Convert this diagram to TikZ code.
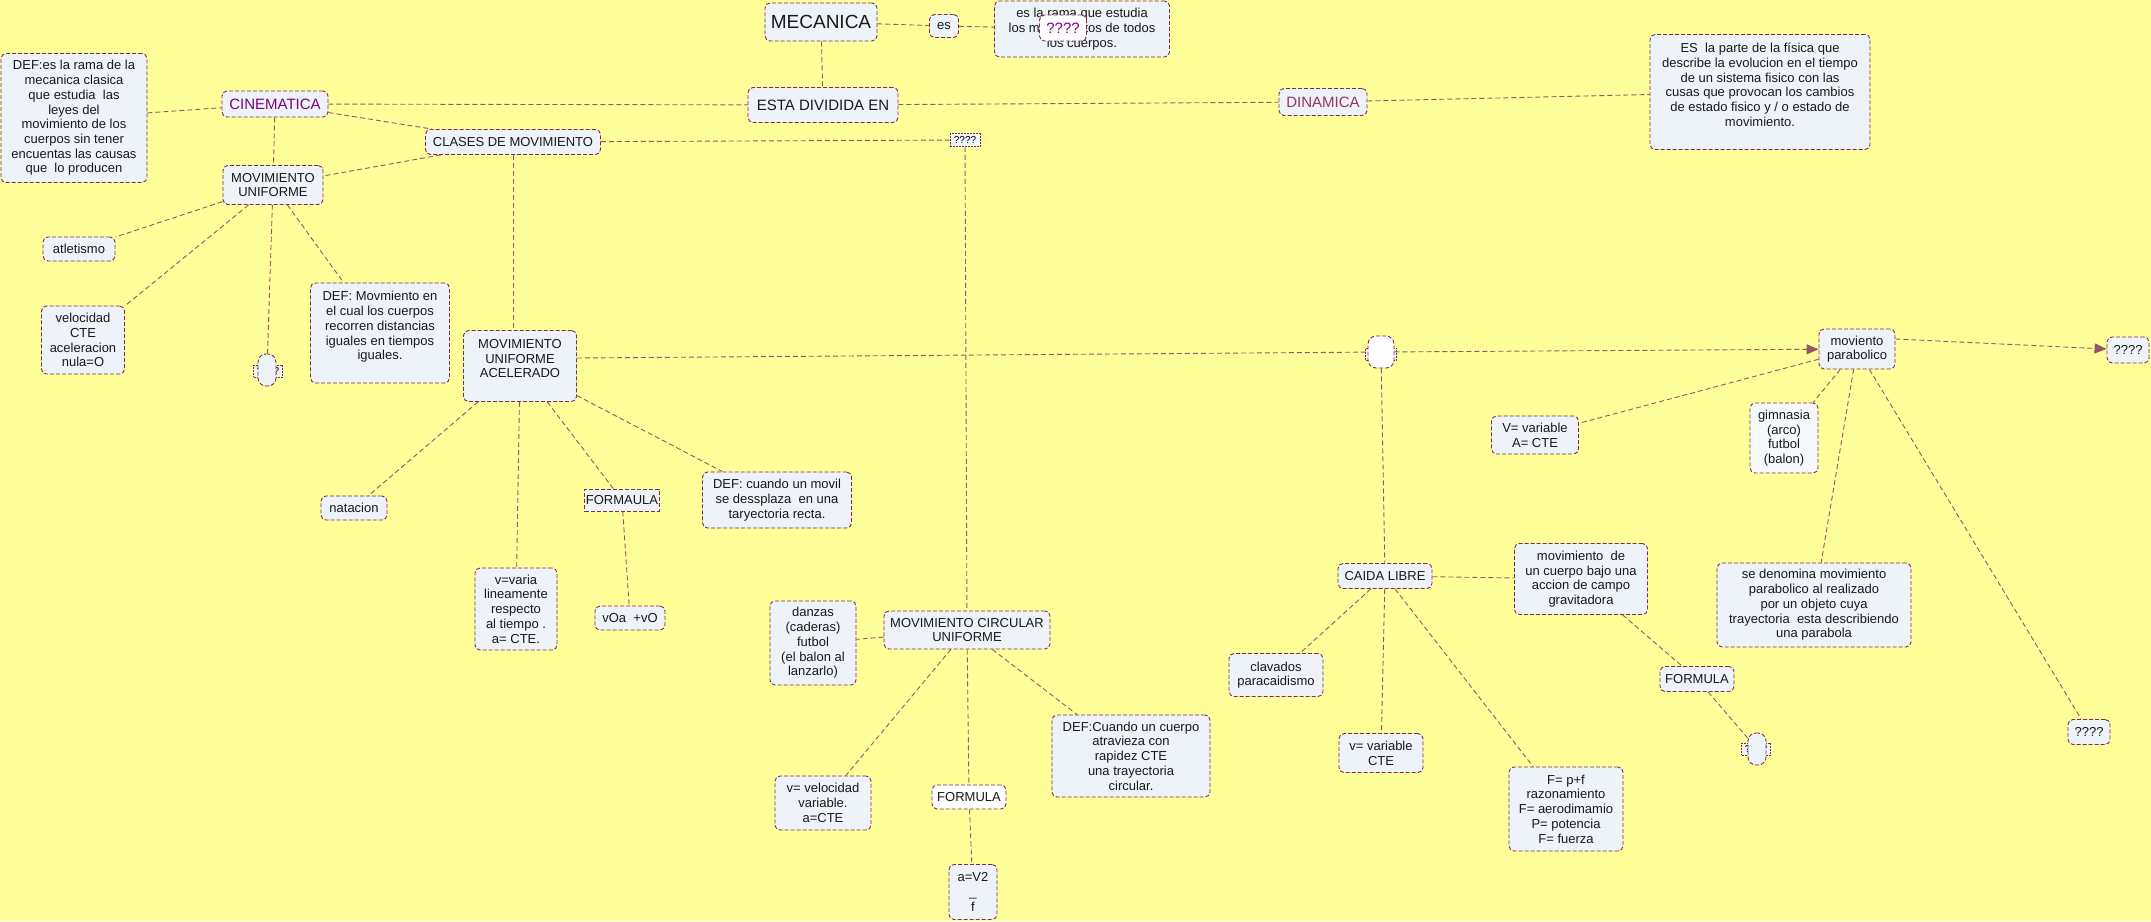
\documentclass[tikz,border=0pt]{standalone}
\usepackage{fontspec}
\setmainfont{Liberation Sans}
\usepackage{tikz}
\usetikzlibrary{shapes, arrows.meta, positioning}

\definecolor{fondo}{RGB}{255,255,153}
\definecolor{relleno}{RGB}{237,243,248}
\definecolor{borde}{RGB}{125,45,80}
\definecolor{linea}{RGB}{150,85,110}
\definecolor{morado}{RGB}{128,0,128}
\definecolor{vino}{RGB}{153,51,102}

\begin{document}
\begin{tikzpicture}[x=1pt, y=-1pt,
    concepto/.style={draw=borde, line width=0.9pt, dash pattern=on 4pt off 2pt, fill=relleno,
        rounded corners=5pt, align=center, inner sep=2pt, text=black!90,
        font=\fontsize{13}{14.7}\selectfont},
    grande/.style={concepto, font=\fontsize{15}{17}\selectfont},
    enlace/.style={draw=linea, line width=0.9pt, dash pattern=on 5pt off 3pt},
    flecha/.style={enlace, -{Triangle[length=12pt, width=10pt]}},
    pastilla/.style={concepto, rounded corners=8pt, minimum width=18, minimum height=32, inner sep=0pt},
    cajita/.style={draw=borde, line width=0.7pt, dash pattern=on 2pt off 1pt, fill=relleno,
        inner sep=1pt, font=\fontsize{10}{11}\selectfont}]
        % 背景
        \fill[fondo] (0,0) rectangle (2151,921);
        \useasboundingbox (0,0) rectangle (2151,921);

        % --- 顶部 ---
        \node[concepto, font=\fontsize{19}{21}\selectfont, minimum width=112, minimum height=38] (meca) at (821,22) {MECANICA};
        \node[concepto, minimum width=29, minimum height=23, inner sep=1pt] (es) at (944,26) {es};
        \node[concepto, minimum width=175, minimum height=56] (esrama) at (1082,29)
            {es la rama que estudia\\los movimientos de todos\\los cuerpos.};
        \node[concepto, fill=white, text=morado, font=\fontsize{15}{17}\selectfont,
            minimum width=47, minimum height=26, inner sep=1pt] (qtop) at (1063,28) {????};
        \node[grande, minimum width=150, minimum height=35] (esta) at (823,105) {ESTA DIVIDIDA EN};

        % --- CINEMATICA ---
        \node[concepto, minimum width=146, minimum height=129] (defcine) at (74,118)
            {DEF:es la rama de la\\mecanica clasica\\que estudia \ las\\leyes del\\movimiento de los\\cuerpos sin tener\\encuentas las causas\\que \ lo producen};
        \node[grande, text=morado, minimum width=106, minimum height=26] (cine) at (275,104) {CINEMATICA};
        \node[concepto, minimum width=175, minimum height=25] (clases) at (513,142) {CLASES DE MOVIMIENTO};
        \node[cajita, minimum width=30, minimum height=13] (qmid) at (965,140) {????};
        \node[concepto, minimum width=100, minimum height=39] (mu) at (273,185) {MOVIMIENTO\\UNIFORME};
        \node[concepto, minimum width=72, minimum height=24] (atle) at (79,249) {atletismo};
        \node[concepto, minimum width=83, minimum height=68] (velcte) at (83,340) {velocidad\\CTE\\aceleracion\\nula=O};
        \node[cajita, minimum width=29, minimum height=12] (qmu) at (268,371) {????};
        \node[pastilla] (ovalmu) at (267,370) {};
        \node[concepto, minimum width=139, minimum height=100] (defmu) at (380,333)
            {DEF: Movmiento en\\el cual los cuerpos\\recorren distancias\\iguales en tiempos\\iguales.\\ \mbox{}};

        % --- MOVIMIENTO UNIFORME ACELERADO ---
        \node[concepto, minimum width=113, minimum height=71] (mua) at (520,366) {MOVIMIENTO\\UNIFORME\\ACELERADO\\ \mbox{}};
        \node[concepto, minimum width=66, minimum height=24] (nata) at (354,508) {natacion};
        \node[concepto, rounded corners=0pt, inner sep=1pt, minimum width=70, minimum height=22] (formaula) at (622,500) {FORMAULA};
        \node[concepto, minimum width=82, minimum height=82] (vvaria) at (516,609) {v=varia\\lineamente\\respecto\\al tiempo .\\a= CTE.};
        \node[concepto, minimum width=70, minimum height=24] (voa) at (630,618) {vOa \ +vO};
        \node[concepto, minimum width=149, minimum height=56] (defmua) at (777,500) {DEF: cuando un movil\\se dessplaza \ en una\\taryectoria recta.};

        % --- MOVIMIENTO CIRCULAR UNIFORME ---
        \node[concepto, minimum width=166, minimum height=38] (mcu) at (967,630) {MOVIMIENTO CIRCULAR\\UNIFORME};
        \node[concepto, minimum width=86, minimum height=84] (danz) at (813,643) {danzas\\(caderas)\\futbol\\(el balon al\\lanzarlo)};
        \node[concepto, minimum width=96, minimum height=54] (vvel) at (823,803) {v= velocidad\\variable.\\a=CTE};
        \node[concepto, fill=white, minimum width=74, minimum height=24] (formc) at (969,797) {FORMULA};
        \node[concepto, minimum width=48, minimum height=55] (av2) at (973,892) {a=V2\\\_\\f};
        \node[concepto, minimum width=158, minimum height=82] (defmcu) at (1131,756) {DEF:Cuando un cuerpo\\atravieza con\\rapidez CTE\\una trayectoria\\circular.};

        % --- DINAMICA ---
        \node[grande, text=vino, minimum width=88, minimum height=27] (dina) at (1323,102) {DINAMICA};
        \node[concepto, minimum width=220, minimum height=115] (defdina) at (1760,92)
            {ES \ la parte de la física que\\describe la evolucion en el tiempo\\de un sistema fisico con las\\cusas que provocan los cambios\\de estado fisico y / o estado de\\movimiento.\\ \mbox{}};

        % --- CAIDA LIBRE / PARABOLICO ---
        \node[cajita, minimum width=31, minimum height=12] (qc) at (1381,354) {????};
        \node[pastilla, fill=white, minimum width=26] (ovalc) at (1381,352) {};
        \node[concepto, minimum width=94, minimum height=25] (caida) at (1385,576) {CAIDA LIBRE};
        \node[concepto, minimum width=133, minimum height=71] (movde) at (1581,579) {movimiento \ de\\un cuerpo bajo una\\accion de campo\\gravitadora};
        \node[concepto, minimum width=94, minimum height=43] (clav) at (1276,675) {clavados\\paracaidismo};
        \node[concepto, minimum width=84, minimum height=39] (vvcte) at (1381,753) {v= variable\\CTE};
        \node[concepto, minimum width=114, minimum height=84] (fpf) at (1566,809) {F= p+f\\razonamiento\\F= aerodimamio\\P= potencia\\F= fuerza};
        \node[concepto, minimum width=74, minimum height=25] (formd) at (1697,679) {FORMULA};
        \node[cajita, minimum width=29, minimum height=12] (qd) at (1756,749) {????};
        \node[pastilla] (ovald) at (1757,749) {};
        \node[concepto, minimum width=76, minimum height=40] (parab) at (1857,349) {moviento\\parabolico};
        \node[concepto, minimum width=42, minimum height=26] (qder) at (2128,350) {????};
        \node[concepto, minimum width=87, minimum height=38] (vvar) at (1535,435) {V= variable\\A= CTE};
        \node[concepto, fill=white!50!relleno, minimum width=68, minimum height=70] (gimn) at (1784,438) {gimnasia\\(arco)\\futbol\\(balon)};
        \node[concepto, minimum width=194, minimum height=84] (sedenom) at (1814,605)
            {se denomina movimiento\\parabolico al realizado\\por un objeto cuya\\trayectoria \ esta describiendo\\una parabola};
        \node[concepto, minimum width=42, minimum height=25] (qabajo) at (2089,732) {????};

        % 连线
        \foreach \a/\b in {defcine/cine, cine/esta, esta/dina, dina/defdina, meca/esta, meca/es, es/esrama,
                cine/clases, cine/mu, clases/mu, clases/qmid, qmid/mcu,
                mu/atle, mu/velcte, mu/ovalmu, mu/defmu,
                mua/nata, mua/vvaria, mua/formaula, mua/defmua, formaula/voa, ovalc/caida,
                parab/vvar, parab/gimn, parab/sedenom, parab/qabajo,
                caida/movde, caida/clav, caida/vvcte, caida/fpf, movde/formd, formd/ovald,
                mcu/danz, mcu/vvel, mcu/formc, mcu/defmcu, formc/av2}
            \draw[enlace] (\a) -- (\b);
        \draw[enlace] (clases.south) -- (clases.south |- mua.north);
        \draw[enlace] ([yshift=8pt]mua.east) -- (ovalc);
        \draw[flecha] (ovalc) -- (parab);
        \draw[flecha] ([yshift=10pt]parab.east) -- (qder);

    \end{tikzpicture}
\end{document}
